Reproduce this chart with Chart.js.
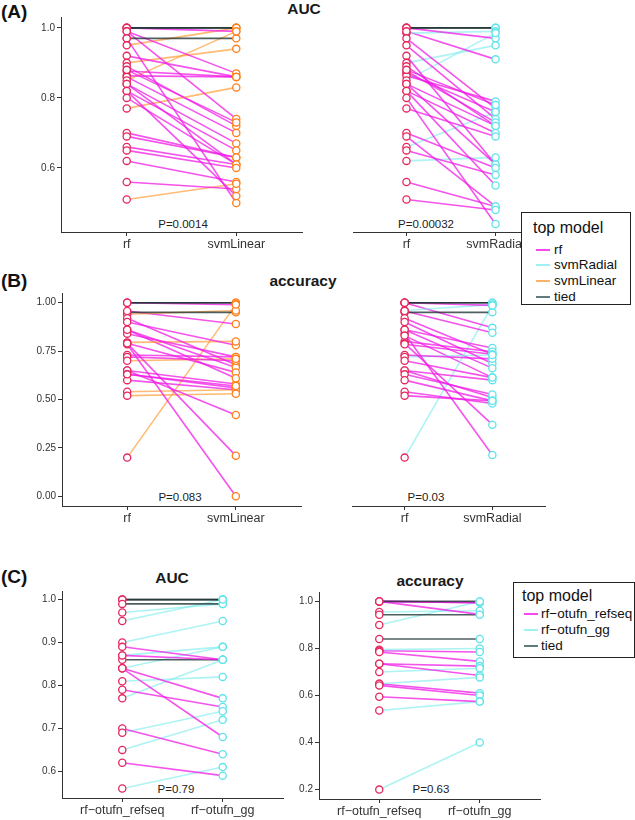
<!DOCTYPE html>
<html><head><meta charset="utf-8">
<script src="https://cdn.jsdelivr.net/npm/chart.js@4.4.0/dist/chart.umd.min.js"></script>
<style>
body{margin:0;background:#fff;}
#wrap{position:relative;width:635px;height:820px;overflow:hidden;background:#fff;font-family:"Liberation Sans",Arial,Helvetica,sans-serif;}
#wrap canvas{position:absolute;}
.t{position:absolute;white-space:nowrap;transform:translate(-50%,-50%);color:#1a1a1a;line-height:1;}
.lab{position:absolute;white-space:nowrap;font-weight:bold;font-size:19px;color:#111;line-height:1;}
.ttl{font-weight:bold;font-size:15.5px;}
.pv{font-size:11.5px;color:#222;}
.leg{position:absolute;border:1px solid #222;background:#fff;box-sizing:border-box;}
.leg .lt{position:absolute;font-size:16px;color:#111;white-space:nowrap;line-height:1;}
.leg .row{position:absolute;white-space:nowrap;font-size:13.5px;color:#111;line-height:1;}
.leg .sw{position:absolute;height:2px;}
</style></head>
<body><div id="wrap">
<div class="lab" style="left:1px;top:2px;">(A)</div>
<div class="t ttl" style="left:304px;top:9px;">AUC</div>
<div class="lab" style="left:1px;top:271px;">(B)</div>
<div class="t ttl" style="left:303px;top:281px;">accuracy</div>
<div class="lab" style="left:1px;top:567px;">(C)</div>
<div class="t ttl" style="left:172px;top:578px;">AUC</div>
<div class="t ttl" style="left:430px;top:581px;">accuracy</div>
<div class="t pv" style="left:183px;top:225px;">P=0.0014</div>
<div class="t pv" style="left:426px;top:225px;">P=0.00032</div>
<div class="t pv" style="left:180px;top:498px;">P=0.083</div>
<div class="t pv" style="left:426px;top:498px;">P=0.03</div>
<div class="t pv" style="left:176px;top:790px;">P=0.79</div>
<div class="t pv" style="left:431px;top:790px;">P=0.63</div>
<div class="leg" style="left:521px;top:212px;width:110px;height:93px;">
  <div class="lt" style="left:11px;top:7px;">top model</div>
  <div class="sw" style="left:14px;top:36px;width:14px;background:rgba(245,40,235,0.85);"></div><div class="row" style="left:32px;top:30px;">rf</div>
  <div class="sw" style="left:14px;top:51px;width:14px;background:rgba(150,240,240,0.9);"></div><div class="row" style="left:32px;top:45px;">svmRadial</div>
  <div class="sw" style="left:14px;top:67px;width:14px;background:rgba(255,170,90,0.9);"></div><div class="row" style="left:32px;top:61px;">svmLinear</div>
  <div class="sw" style="left:14px;top:83px;width:14px;background:rgba(80,110,110,0.9);"></div><div class="row" style="left:32px;top:77px;">tied</div>
</div>
<div class="leg" style="left:513px;top:582px;width:122px;height:76px;">
  <div class="lt" style="left:8px;top:5px;">top model</div>
  <div class="sw" style="left:10px;top:30px;width:14px;background:rgba(245,40,235,0.85);"></div><div class="row" style="left:27px;top:24px;">rf−otufn_refseq</div>
  <div class="sw" style="left:10px;top:46px;width:14px;background:rgba(150,240,240,0.9);"></div><div class="row" style="left:27px;top:40px;">rf−otufn_gg</div>
  <div class="sw" style="left:10px;top:62px;width:14px;background:rgba(80,110,110,0.9);"></div><div class="row" style="left:27px;top:56px;">tied</div>
</div>
</div>
<script>
// ---------- DATA ----------
// (A) AUC: rf vs svmLinear
const aucLinRf   = [1.00,1.00,0.97,1.00,0.99,0.99,0.97,0.95,0.92,0.90,0.89,0.877,0.863,0.86,0.85,0.84,0.84,0.82,0.82,0.80,0.77,0.70,0.69,0.66,0.65,0.62,0.56,0.51,0.88];
const aucLinSvm  = [1.00,1.00,0.97,0.99,0.87,0.74,0.50,1.00,0.86,0.94,0.72,0.86,0.86,0.70,0.99,0.61,0.67,0.52,0.65,0.61,0.83,0.63,0.63,0.61,0.60,0.56,0.54,0.555,0.73];
const aucLinTop  = ["tied","tied","tied","rf","rf","rf","rf","svmLinear","rf","svmLinear","rf","rf","rf","rf","svmLinear","rf","rf","rf","rf","rf","svmLinear","rf","rf","rf","rf","rf","rf","svmLinear","rf"];
// (A) AUC: rf vs svmRadial
const aucRadRf   = [1.00,1.00,1.00,0.985,0.99,0.97,0.95,0.92,0.90,0.89,0.877,0.87,0.863,0.85,0.84,0.84,0.82,0.82,0.80,0.77,0.70,0.69,0.66,0.65,0.62,0.56,0.51,0.88];
const aucRadSvm  = [1.00,1.00,0.97,0.99,0.91,0.77,0.74,0.61,0.95,0.72,0.73,0.76,0.79,0.985,0.72,0.61,0.55,0.70,0.44,0.69,0.60,0.49,0.76,0.58,0.63,0.49,0.48,0.78];
const aucRadTop  = ["tied","tied","rf","svmRadial","rf","rf","rf","rf","svmRadial","rf","rf","rf","rf","svmRadial","rf","rf","rf","rf","rf","rf","rf","rf","svmRadial","rf","svmRadial","rf","rf","rf"];
// (B) accuracy: rf vs svmLinear
const accLinRf   = [1.00,1.00,1.00,0.95,0.94,0.957,0.92,0.90,0.86,0.84,0.795,0.79,0.785,0.79,0.73,0.72,0.70,0.65,0.65,0.63,0.60,0.54,0.52,0.20,0.86,0.63];
const accLinSvm  = [1.00,1.00,0.99,0.95,0.96,0.89,0.68,0.78,0.665,0.72,0.80,0.21,0.00,0.64,0.72,0.70,0.71,0.58,0.42,0.56,0.55,0.55,0.53,0.99,0.61,0.57];
const accLinTop  = ["tied","tied","rf","tied","svmLinear","rf","rf","rf","rf","rf","svmLinear","rf","rf","rf","rf","rf","svmLinear","rf","rf","rf","rf","svmLinear","svmLinear","svmLinear","rf","rf"];
// (B) accuracy: rf vs svmRadial
const accRadRf   = [1.00,1.00,1.00,0.95,0.96,1.00,0.957,0.92,0.90,0.86,0.84,0.80,0.79,0.785,0.73,0.72,0.70,0.65,0.65,0.63,0.60,0.54,0.52,0.20,0.86,0.83];
const accRadSvm  = [1.00,1.00,0.986,0.95,0.99,0.87,0.845,0.734,0.686,0.766,0.213,0.747,0.37,0.734,0.71,0.73,0.613,0.60,0.51,0.526,0.493,0.479,0.493,0.986,0.662,0.613];
const accRadTop  = ["tied","tied","rf","tied","svmRadial","rf","rf","rf","rf","rf","rf","rf","rf","rf","rf","svmRadial","rf","rf","rf","rf","rf","rf","rf","svmRadial","rf","rf"];
// (C) AUC: rf-otufn_refseq vs rf-otufn_gg
const aucRefseq  = [1.00,1.00,0.99,0.97,0.95,0.90,0.89,0.87,0.86,0.87,0.84,0.84,0.84,0.81,0.79,0.77,0.70,0.69,0.65,0.62,0.56];
const aucGg      = [1.00,1.00,0.99,0.99,1.00,0.95,0.86,0.86,0.86,0.89,0.89,0.77,0.68,0.82,0.75,0.86,0.64,0.74,0.72,0.59,0.61];
const aucOtuTop  = ["tied","tied","tied","rf-otufn_gg","rf-otufn_gg","rf-otufn_gg","rf-otufn_refseq","rf-otufn_refseq","tied","rf-otufn_gg","rf-otufn_gg","rf-otufn_refseq","rf-otufn_refseq","rf-otufn_gg","rf-otufn_refseq","rf-otufn_gg","rf-otufn_refseq","rf-otufn_gg","rf-otufn_gg","rf-otufn_refseq","rf-otufn_gg"];
// (C) accuracy: rf-otufn_refseq vs rf-otufn_gg
const accRefseq  = [1.00,1.00,1.00,1.00,0.955,0.943,0.90,0.84,0.795,0.79,0.785,0.735,0.735,0.70,0.65,0.65,0.643,0.595,0.536,0.20];
const accGg      = [1.00,0.995,0.995,0.945,0.96,0.943,1.00,0.84,0.80,0.785,0.745,0.725,0.685,0.716,0.677,0.61,0.60,0.574,0.574,0.40];
const accOtuTop  = ["tied","rf-otufn_refseq","rf-otufn_refseq","rf-otufn_refseq","rf-otufn_gg","tied","rf-otufn_gg","tied","rf-otufn_gg","rf-otufn_refseq","rf-otufn_refseq","rf-otufn_refseq","rf-otufn_refseq","rf-otufn_gg","rf-otufn_gg","rf-otufn_refseq","rf-otufn_refseq","rf-otufn_refseq","rf-otufn_gg","rf-otufn_gg"];
// tick labels
const aucTicksA = [0.6,0.8,1.0],        aucLabelsA = ["0.6","0.8","1.0"];
const accTicksB = [0,0.25,0.5,0.75,1],  accLabelsB = ["0.00","0.25","0.50","0.75","1.00"];
const aucTicksC = [0.6,0.7,0.8,0.9,1.0], aucLabelsC = ["0.6","0.7","0.8","0.9","1.0"];
const accTicksC = [0.2,0.4,0.6,0.8,1.0], accLabelsC = ["0.2","0.4","0.6","0.8","1.0"];
const catsLin = ["rf","svmLinear"], catsRad = ["rf","svmRadial"], catsOtu = ["rf−otufn_refseq","rf−otufn_gg"];

// ---------- STYLE ----------
const FONT = '"Liberation Sans", Arial, Helvetica, sans-serif';
const lineColors = {
  "rf":"rgba(240,25,230,0.75)", "rf-otufn_refseq":"rgba(240,25,230,0.75)",
  "svmRadial":"rgba(125,236,236,0.62)", "rf-otufn_gg":"rgba(125,236,236,0.62)",
  "svmLinear":"rgba(255,150,45,0.65)", "tied":"rgba(30,50,50,0.78)"
};
const C_RF = "#E6265F", C_LIN = "#FF7F1A", C_RAD = "#5EE3EA";
const wrap = document.getElementById('wrap');

function makePanel(box, yMin, yMax, yTicks, yLabels, showY, cats, leftVals, rightVals, tops, leftColor, rightColor){
  const padL=45, padT=12, padR=10, padB=30;
  const c = document.createElement('canvas');
  const w = box.R-box.L+padL+padR, h = box.B-box.T+padT+padB;
  c.width=w; c.height=h;
  c.style.width=w+'px'; c.style.height=h+'px';
  c.style.left=(box.L-padL)+'px'; c.style.top=(box.T-padT)+'px';
  wrap.appendChild(c);
  const datasets = [];
  datasets.push({data:leftVals.map(v=>({x:1,y:v})), showLine:false, pointRadius:3.6, pointBorderWidth:1.3,
    pointBorderColor:leftColor, pointBackgroundColor:'#fff', order:0});
  datasets.push({data:rightVals.map(v=>({x:2,y:v})), showLine:false, pointRadius:3.6, pointBorderWidth:1.3,
    pointBorderColor:rightColor, pointBackgroundColor:'#fff', order:0});
  tops.forEach((t,i)=>{
    datasets.push({data:[{x:1,y:leftVals[i]},{x:2,y:rightVals[i]}], showLine:true, borderColor:lineColors[t],
      borderWidth:1.6, pointRadius:0, order:1});
  });
  new Chart(c,{type:'scatter', data:{datasets},
    options:{responsive:false, animation:false, devicePixelRatio:1, events:[],
      layout:{autoPadding:false, padding:{left:showY?0:padL, top:padT, right:padR, bottom:0}},
      plugins:{legend:{display:false}, tooltip:{enabled:false}},
      scales:{
        x:{type:'linear', min:0.4, max:2.6,
          afterBuildTicks:a=>{a.ticks=[{value:1},{value:2}];},
          afterFit:s=>{s.height=padB;},
          ticks:{callback:(v,i)=>cats[i], font:{size:12.5,family:FONT}, color:'#333', padding:1, maxRotation:0, autoSkip:false},
          grid:{drawOnChartArea:false, tickLength:4, color:'#333'},
          border:{display:true, color:'#333', width:1}},
        y:{type:'linear', min:yMin, max:yMax, display:showY,
          afterBuildTicks:a=>{a.ticks=yTicks.map(v=>({value:v}));},
          afterFit:s=>{s.width=padL;},
          ticks:{callback:(v,i)=>yLabels[i], font:{size:10,family:FONT}, color:'#333', padding:2, autoSkip:false},
          grid:{drawOnChartArea:false, tickLength:4, color:'#333'},
          border:{display:true, color:'#333', width:1}}
      }}});
}

makePanel({L:61,R:302,T:17,B:232}, 0.417, 1.031, aucTicksA, aucLabelsA, true,  catsLin, aucLinRf, aucLinSvm, aucLinTop, C_RF, C_LIN);
makePanel({L:308,R:549,T:17,B:232}, 0.417, 1.031, aucTicksA, aucLabelsA, false, catsRad, aucRadRf, aucRadSvm, aucRadTop, C_RF, C_RAD);
makePanel({L:62,R:301,T:293,B:506}, -0.05, 1.05, accTicksB, accLabelsB, true,  catsLin, accLinRf, accLinSvm, accLinTop, C_RF, C_LIN);
makePanel({L:307,R:545,T:293,B:506}, -0.05, 1.05, accTicksB, accLabelsB, false, catsRad, accRadRf, accRadSvm, accRadTop, C_RF, C_RAD);
makePanel({L:62,R:283,T:591,B:798}, 0.538, 1.02, aucTicksC, aucLabelsC, true, catsOtu, aucRefseq, aucGg, aucOtuTop, C_RF, C_RAD);
makePanel({L:319,R:540,T:592,B:799}, 0.16, 1.04, accTicksC, accLabelsC, true, catsOtu, accRefseq, accGg, accOtuTop, C_RF, C_RAD);

// legends above canvases
document.querySelectorAll('.leg').forEach(e=>{e.style.zIndex=5; wrap.appendChild(e);});
</script>
</body></html>
